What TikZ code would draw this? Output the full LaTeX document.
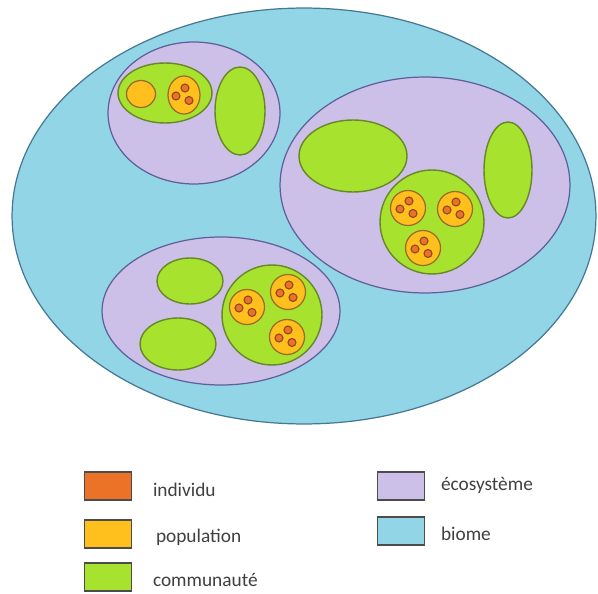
\documentclass[tikz,border=0pt]{standalone}
\usepackage{fontspec}
\setmainfont{Carlito}
\usepackage{tikz}
\usetikzlibrary{shapes.geometric,positioning}
\definecolor{BiomeBlue}{RGB}{146, 213, 230}
\definecolor{BiomeLine}{RGB}{70, 120, 150}
\definecolor{EcoLilac}{RGB}{204, 192, 232}
\definecolor{EcoLine}{RGB}{95, 95, 155}
\definecolor{CommGreen}{RGB}{166, 226, 46}
\definecolor{CommLine}{RGB}{105, 135, 40}
\definecolor{PopYellow}{RGB}{255, 192, 30}
\definecolor{PopLine}{RGB}{155, 105, 40}
\definecolor{IndOrange}{RGB}{235, 115, 40}
\definecolor{IndLine}{RGB}{140, 70, 30}

\begin{document}
\begin{tikzpicture}[x=0.02cm, y=-0.02cm,
      every node/.style={inner sep=0pt, outer sep=0pt},
      biome/.style={ellipse, draw=BiomeLine, fill=BiomeBlue, line width=0.7pt},
      eco/.style={ellipse, draw=EcoLine, fill=EcoLilac, line width=0.7pt},
      comm/.style={ellipse, draw=CommLine, fill=CommGreen, line width=0.8pt},
      pop/.style={ellipse, draw=PopLine, fill=PopYellow, line width=0.7pt},
      indiv/.style={circle, draw=IndLine, fill=IndOrange, line width=0.6pt, minimum size=0.16cm},
      swatch/.style={rectangle, draw=black!70, line width=0.6pt, minimum width=0.94cm, minimum height=0.56cm},
      legend/.style={font=\fontsize{11}{13}\selectfont, text=black!75, anchor=west}
    ]
      \useasboundingbox (0,0) rectangle (598,594);

      % Biome
      \node[biome, minimum width=11.68cm, minimum height=8.32cm] (biome) at (304,216) {};

      % Ecosystem 1 (top left)
      \node[eco, minimum width=3.44cm, minimum height=2.84cm] (eco1) at (194,113) {};
      \node[comm, minimum width=1.88cm, minimum height=1.2cm] (comm1) at (165,93) {};
      \node[comm, minimum width=1.0cm, minimum height=1.76cm] (green1) at (240,111) {};
      \node[pop, minimum width=0.58cm, minimum height=0.54cm] (pop1a) at (141,94) {};
      \node[pop, minimum width=0.64cm, minimum height=0.76cm] (pop1b) at (184,95) {};

      % Ecosystem 2 (right)
      \node[eco, minimum width=5.8cm, minimum height=4.32cm] (eco2) at (425,185) {};
      \node[comm, minimum width=2.16cm, minimum height=1.44cm] (green2a) at (353,156) {};
      \node[comm, minimum width=0.96cm, minimum height=1.92cm] (green2b) at (508,170) {};
      \node[comm, circle, minimum size=2.08cm] (comm2) at (432,222) {};
      \node[pop, circle, minimum size=0.7cm] (pop2a) at (408,208) {};
      \node[pop, circle, minimum size=0.7cm] (pop2b) at (455,209) {};
      \node[pop, circle, minimum size=0.7cm] (pop2c) at (423,248) {};

      % Ecosystem 3 (bottom left)
      \node[eco, minimum width=4.76cm, minimum height=2.96cm] (eco3) at (221,311) {};
      \node[comm, minimum width=1.32cm, minimum height=0.92cm] (green3a) at (190,281) {};
      \node[comm, minimum width=1.52cm, minimum height=1.04cm] (green3b) at (178,344) {};
      \node[comm, circle, minimum size=2.0cm] (comm3) at (272,315) {};
      \node[pop, circle, minimum size=0.7cm] (pop3a) at (247,307) {};
      \node[pop, circle, minimum size=0.7cm] (pop3b) at (288,292) {};
      \node[pop, circle, minimum size=0.7cm] (pop3c) at (287,337) {};

      % Individuals
      \foreach \p in {pop1b,pop2a,pop2b,pop2c,pop3a,pop3b,pop3c} {
        \node[indiv, xshift=0.02cm, yshift=0.14cm] (\p-i1) at (\p) {};
        \node[indiv, xshift=-0.16cm, yshift=-0.02cm] (\p-i2) at (\p) {};
        \node[indiv, xshift=0.1cm, yshift=-0.11cm] (\p-i3) at (\p) {};
      }

      % Legend
      \node[swatch, fill=IndOrange] (keyind) at (108,486) {};
      \node[swatch, fill=PopYellow] (keypop) at (108,534) {};
      \node[swatch, fill=CommGreen] (keycomm) at (108,577) {};
      \node[swatch, fill=EcoLilac] (keyeco) at (401,486) {};
      \node[swatch, fill=BiomeBlue] (keybiome) at (401,531) {};
      \node[legend] (txtind) at (153,490) {individu};
      \node[legend] (txtpop) at (156,537) {population};
      \node[legend] (txtcomm) at (153,580) {communauté};
      \node[legend] (txteco) at (441,485) {écosystème};
      \node[legend] (txtbiome) at (441,534) {biome};
    \end{tikzpicture}
\end{document}
